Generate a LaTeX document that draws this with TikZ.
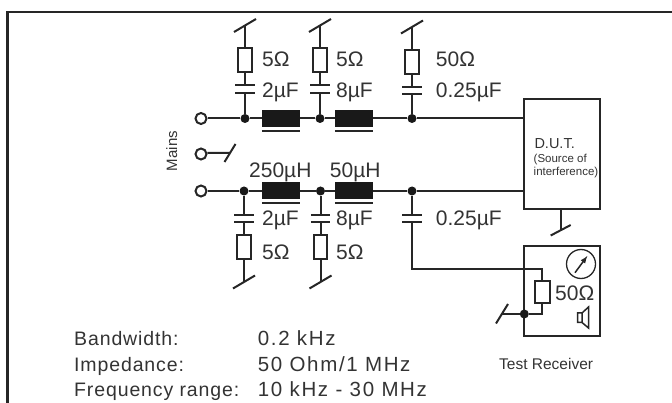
\documentclass[tikz,border=0pt]{standalone}
\usepackage{fontspec}
\setmainfont{Liberation Sans}
\usetikzlibrary{calc}
\tikzset{wire/.style={
            line width=2pt,
            draw=black!85
        },
        frameline/.style={
            line width=2.4pt,
            draw=black!85
        },
        terminal/.style={
            draw=black!85,
            circle,
            fill=white,
            line width=2pt,
            inner sep=0pt,
            minimum size=11pt
        },
        junction/.style={
            circle,
            fill=black!90,
            inner sep=0pt,
            minimum size=9pt
        },
        resistor/.style={
            draw=black!85,
            line width=2pt,
            inner sep=0pt,
            minimum width=13.5pt,
            minimum height=24pt
        },
        capacitor/.style={
            inner sep=0pt,
            minimum width=19pt,
            minimum height=7pt
        },
        choke/.style={
            fill=black!90,
            inner sep=0pt,
            minimum width=38pt,
            minimum height=17pt
        },
        unitbox/.style={
            draw=black!85,
            line width=2pt,
            inner sep=0pt,
            minimum width=76pt
        },
        value/.style={
            anchor=base west,
            inner sep=0pt,
            text=black!80,
            font=\fontsize{21}{22}\selectfont
        },
        spec/.style={
            value,
            font=\addfontfeature{LetterSpace=4.5}\fontsize{19.5}{20}\selectfont
        },
        specvalue/.style={
            value,
            font=\addfontfeature{LetterSpace=8}\fontsize{20.5}{21}\selectfont
        },
        small/.style={
            value,
            font=\fontsize{11.5}{12}\selectfont
        }
    }

\begin{document}
\begin{tikzpicture}[x=1pt,y=-1pt]
        \useasboundingbox (0,0) rectangle (672,403);
        \draw[frameline] (7.5,403) -- (7.5,12) -- (672,12);

        % mains line
        \node[terminal] (lineone) at (201,118.5) {};
        \node[terminal] (earth) at (201,154) {};
        \node[terminal] (linetwo) at (201,191) {};
        \node[unitbox,minimum height=110pt] (dut) at (562.3,154) {};
        \node[unitbox,minimum height=90pt] (receiver) at (562.3,291) {};

        \node[junction] (topa) at (245,118.5) {};
        \node[junction] (topb) at (320,118.5) {};
        \node[junction] (topc) at (412,118.5) {};
        \node[junction] (lowa) at (244,191) {};
        \node[junction] (lowb) at (320.5,191) {};
        \node[junction] (lowc) at (412,191) {};

        \node[choke] (chokea) at (281,118.5) {};
        \node[choke] (chokeb) at (354,118.5) {};
        \node[choke] (chokec) at (281,191) {};
        \node[choke] (choked) at (354,191) {};
        \draw[wire] (lineone) -- (topa) -- (chokea) -- (topb) -- (chokeb) -- (topc) -- (topc -| dut.west);
        \draw[wire] (linetwo) -- (lowa) -- (chokec) -- (lowb) -- (choked) -- (lowc) -- (lowc -| dut.west);
        \draw[wire] (chokea.south west) ++(0,4) -- ++(38,0);
        \draw[wire] (chokeb.south west) ++(0,4) -- ++(38,0);
        \draw[wire] (chokec.south west) ++(0,3.5) -- ++(38,0);
        \draw[wire] (choked.south west) ++(0,3.5) -- ++(38,0);

        % upper branches
        \node[resistor] (resa) at (245,60.5) {};
        \node[resistor] (resb) at (320,60.5) {};
        \node[resistor] (resc) at (412,62) {};
        \node[capacitor] (capa) at (245,89) {};
        \node[capacitor] (capb) at (320,89) {};
        \node[capacitor] (capc) at (412,90.5) {};
        \coordinate (gnda) at (245,25.5);
        \coordinate (gndb) at (320,25.5);
        \coordinate (gndc) at (412,27);
        \draw[wire] (gnda) -- (resa) -- (capa) -- (topa);
        \draw[wire] (gndb) -- (resb) -- (capb) -- (topb);
        \draw[wire] (gndc) -- (resc) -- (capc) -- (topc);

        % lower branches
        \node[capacitor] (capd) at (244,218.5) {};
        \node[capacitor] (cape) at (320.5,218.5) {};
        \node[capacitor] (capf) at (412,218.5) {};
        \node[resistor] (resd) at (244,247.5) {};
        \node[resistor] (rese) at (320.5,247.5) {};
        \coordinate (gndd) at (244,282);
        \coordinate (gnde) at (320.5,282);
        \draw[wire] (lowa) -- (capd) -- (resd) -- (gndd);
        \draw[wire] (lowb) -- (cape) -- (rese) -- (gnde);
        \draw[wire] (lowc) -- (capf);
        \foreach \c in {capa,capb,capc,capd,cape,capf}{
            \draw[wire] (\c.north west) -- (\c.north east);
            \draw[wire] (\c.south west) -- (\c.south east);
        }
        \foreach \g in {gnda,gndb,gndc,gndd,gnde}{
            \draw[wire] ($(\g)+(-11,6.5)$) -- ($(\g)+(11,-6.5)$);
        }

        % earth stub, D.U.T. earth
        \coordinate (stub) at (230,153);
        \draw[wire] (earth) -- (stub -| earth.east) -- (stub);
        \draw[wire] ($(stub)+(-5.5,9)$) -- ($(stub)+(5.5,-9)$);
        \coordinate (dutgnd) at (560.7,230);
        \draw[wire] (dut.south -| dutgnd) -- (dutgnd);
        \draw[wire] ($(dutgnd)+(-10,5.5)$) -- ($(dutgnd)+(10,-5)$);

        % test receiver
        \node[junction] (recnode) at (524.3,314) {};
        \node[resistor,minimum width=14.5pt,minimum height=22.5pt] (resr) at (542.3,292) {};
        \coordinate (corner) at (412,269.5);
        \coordinate (stubr) at (502,314);
        \draw[wire] (capf) -- (corner) -- (corner -| resr) -- (resr) -- (resr |- recnode) -- (recnode) -- (stubr);
        \draw[wire] ($(stubr)+(-6,9.5)$) -- ($(stubr)+(6,-10)$);
        \node[draw=black!85,circle,line width=1.3pt,inner sep=0pt,minimum size=29pt] (meter) at (581,264) {};
        \coordinate (needle) at (575,272.7);
        \coordinate (needletip) at (587.3,256);
        \draw[line width=1.5pt,draw=black!85,-latex] (needle) -- (needletip);
        \coordinate (speaker) at (577.5,313);
        \draw[line width=1.5pt,draw=black!85] (speaker) rectangle ++(4.5,9.5) (speaker) ++(4.5,0) -- ++(6.5,-6) -- ++(0,21) -- ++(-6.5,-5.5);

        % values
        \node[value] (lra) at (262,66.7) {5Ω};
        \node[value] (lca) at (262,98) {2µF};
        \node[value] (lrb) at (336,66.7) {5Ω};
        \node[value] (lcb) at (336,98) {8µF};
        \node[value] (lrc) at (435.7,66.7) {50Ω};
        \node[value] (lcc) at (435.7,98) {0.25µF};
        \node[value] (lla) at (249,178) {250µH};
        \node[value] (llb) at (329.7,178) {50µH};
        \node[value] (lcd) at (262,226) {2µF};
        \node[value] (lce) at (336,226) {8µF};
        \node[value] (lcf) at (435.7,226) {0.25µF};
        \node[value] (lrd) at (262,259.3) {5Ω};
        \node[value] (lre) at (336,259.3) {5Ω};
        \node[value] (lrr) at (555,300.7) {50Ω};
        \node[small,font=\fontsize{15}{16}\selectfont,rotate=90,anchor=base] (mains) at (177,151) {Mains};
        \node[value,font=\fontsize{14.5}{15}\selectfont] (ldut) at (534.3,149) {D.U.T.};
        \node[small] (lsrc) at (533.5,163) {(Source of};
        \node[small] (lint) at (533.5,175.7) {interference)};
        \node[small,font=\fontsize{15.5}{16}\selectfont] (lrec) at (499,370) {Test Receiver};

        % specification
        \node[spec] (sbw) at (74,345) {Bandwidth:};
        \node[spec] (sim) at (74,371) {Impedance:};
        \node[spec] (sfr) at (74,396.7) {Frequency range:};
        \node[specvalue] (vbw) at (257.7,345) {0.2 kHz};
        \node[specvalue] (vim) at (257.7,371) {50 Ohm/1 MHz};
        \node[specvalue] (vfr) at (257.7,396.7) {10 kHz - 30 MHz};
    \end{tikzpicture}
\end{document}
